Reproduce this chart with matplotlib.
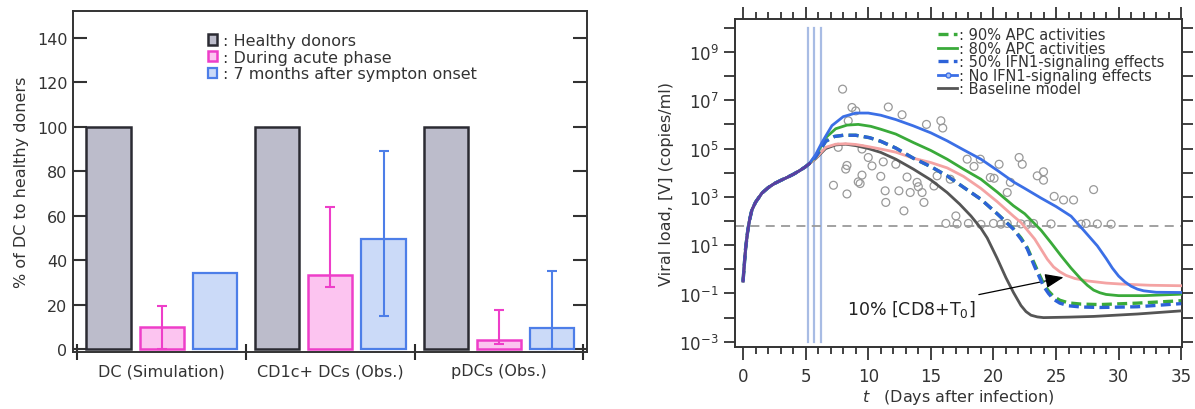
import matplotlib
matplotlib.use("Agg")
import matplotlib.pyplot as plt
import numpy as np
from matplotlib.lines import Line2D
from matplotlib.ticker import FixedLocator, FuncFormatter, MultipleLocator, NullFormatter

plt.rcParams["font.family"] = ["DejaVu Sans"]
plt.rcParams["mathtext.default"] = "regular"
plt.rcParams["text.color"] = "#333333"
plt.rcParams["axes.labelcolor"] = "#333333"
plt.rcParams["xtick.color"] = "#333333"
plt.rcParams["ytick.color"] = "#333333"

# ---------------------------------------------------------------- left panel data
categories = ["DC (Simulation)", "CD1c+ DCs (Obs.)", "pDCs (Obs.)"]
group_labels = [": Healthy donors", ": During acute phase", ": 7 months after sympton onset"]
healthy = [100, 100, 100]
acute = [10, 33.5, 4]
acute_lo = [0, 28, 2.5]
acute_hi = [19.5, 64, 17.5]
after7m = [34, 49.5, 9.5]
after7m_lo = [None, 15, 0]
after7m_hi = [None, 89, 35]

# ---------------------------------------------------------------- right panel data
# log10 viral load
t_early = [0, 0.1, 0.2, 0.35, 0.5, 0.7, 1.0, 1.5, 2.0, 2.5, 3.0, 3.5, 4.0, 4.5, 5.0, 5.3]
v_early = [-0.48, 0.2, 0.85, 1.5, 2.0, 2.45, 2.78, 3.15, 3.38, 3.55, 3.68, 3.8, 3.93, 4.08, 4.25, 4.38]

t_noifn = [5.8, 6.3, 7.1, 8.0, 9.0, 10.0, 11.0, 12.2, 13.6, 15.0, 16.3, 17.6, 19.0, 20.3,
           21.6, 22.5, 23.8, 25.0, 26.2, 27.2, 28.3, 29.0, 29.5, 30.0, 30.5, 31.0, 31.5,
           32.0, 33.0, 35]
v_noifn = [4.75, 5.25, 5.95, 6.32, 6.47, 6.47, 6.38, 6.2, 5.94, 5.65, 5.32, 4.95, 4.56, 4.1,
           3.62, 3.35, 2.95, 2.6, 2.2, 1.62, 0.97, 0.45, 0.05, -0.28, -0.52, -0.7, -0.82,
           -0.89, -0.95, -0.96]

t_apc80 = [5.8, 6.6, 7.4, 8.3, 9.2, 10.2, 11.0, 12.2, 13.6, 15.0, 16.3, 17.6, 19.0, 20.3,
           21.6, 22.5, 23.8, 24.6, 25.4, 26.2, 27.0, 27.5, 28.0, 28.5, 29.0, 30.0, 32, 35]
v_apc80 = [4.7, 5.45, 5.82, 5.97, 6.0, 5.92, 5.8, 5.6, 5.25, 4.92, 4.56, 4.15, 3.73, 3.2,
           2.63, 2.3, 1.62, 1.1, 0.56, 0.05, -0.41, -0.66, -0.86, -0.97, -1.04, -1.09, -1.09,
           -1.03]

t_ifn50 = [5.8, 6.6, 7.3, 8.0, 9.0, 10.1, 11.0, 12.2, 13.6, 15.0, 16.3, 17.6, 19.0, 20.3,
           21.6, 22.2, 22.7, 23.3, 24.0, 24.4, 24.8, 25.3, 26.0, 27.0, 28.5, 31.5, 35]
v_ifn50 = [4.65, 5.3, 5.5, 5.55, 5.55, 5.45, 5.3, 5.02, 4.6, 4.25, 3.87, 3.4, 2.9, 2.3,
           1.66, 1.25, 0.85, 0.1, -0.7, -1.0, -1.24, -1.4, -1.51, -1.56, -1.58, -1.55, -1.42]

t_apc90 = [5.8, 6.6, 7.3, 8.0, 9.0, 10.1, 11.0, 12.2, 13.6, 15.0, 16.3, 17.6, 19.0, 20.3,
           21.6, 22.2, 22.7, 23.3, 24.0, 24.4, 24.8, 25.3, 26.0, 27.0, 28.5, 31.5, 35]
v_apc90 = [4.65, 5.3, 5.5, 5.55, 5.55, 5.45, 5.3, 5.02, 4.6, 4.25, 3.87, 3.4, 2.9, 2.3,
           1.68, 1.3, 0.9, 0.2, -0.6, -0.9, -1.12, -1.28, -1.39, -1.44, -1.46, -1.4, -1.3]

t_cd8 = [5.8, 6.6, 7.4, 8.2, 9.0, 10.0, 11.0, 12.2, 13.6, 15.0, 16.3, 17.6, 19.0, 20.3,
         21.6, 22.2, 23.3, 24.3, 24.8, 25.3, 25.8, 26.5, 27.5, 29.0, 30.2, 32.5, 35]
v_cd8 = [4.6, 5.05, 5.18, 5.2, 5.17, 5.08, 4.98, 4.85, 4.6, 4.42, 4.2, 3.85, 3.35, 2.8,
         2.2, 1.94, 1.25, 0.42, 0.1, -0.1, -0.25, -0.38, -0.48, -0.57, -0.61, -0.66, -0.68]

t_base = [5.8, 6.6, 7.4, 8.2, 9.0, 10.0, 11.0, 12.2, 13.6, 15.0, 16.3, 17.3, 18.2, 19.0,
          19.5, 20.3, 21.0, 21.6, 22.2, 22.6, 23.0, 23.5, 24.0, 26, 28, 31.5, 35]
v_base = [4.58, 5.0, 5.15, 5.18, 5.12, 5.0, 4.84, 4.56, 4.15, 3.7, 3.18, 2.7, 2.21, 1.7,
          1.3, 0.45, -0.35, -0.96, -1.5, -1.75, -1.9, -1.97, -2.0, -1.98, -1.95, -1.85, -1.72]

# observed viral loads (t, log10 V)
obs_t = [7.95, 8.7, 9.0, 8.4, 11.6, 12.7, 14.65, 15.8, 15.95,
         7.6, 9.5, 10.0, 8.3, 8.2, 10.3, 11.2, 12.2, 9.5, 11.0, 9.2, 9.35, 7.22, 13.1, 13.9,
         14.0, 11.35, 12.45, 13.35, 14.3, 8.3, 11.4, 14.45, 12.85,
         15.5, 15.25, 16.55, 17.9, 18.95, 18.45, 20.45, 22.05, 22.3, 19.75, 20.05, 21.35,
         23.5, 24.0, 24.0, 24.85, 25.6, 26.4, 28.0, 21.1, 17.0,
         16.2, 17.1, 18.0, 19.0, 20.0, 20.6, 21.1, 22.2, 22.7, 23.2, 24.6, 27.0, 27.4, 28.3, 29.4]
obs_v = [7.46, 6.7, 6.56, 6.15, 6.72, 6.4, 6.0, 6.15, 5.85,
         5.05, 4.98, 4.63, 4.3, 4.15, 4.28, 4.45, 4.35, 3.9, 3.85, 3.62, 3.55, 3.48, 3.82, 3.6,
         3.42, 3.25, 3.25, 3.18, 3.18, 3.12, 2.77, 2.77, 2.42,
         3.87, 3.45, 3.73, 4.56, 4.56, 4.26, 4.35, 4.63, 4.35, 3.8, 3.77, 3.6,
         3.87, 4.04, 3.69, 3.02, 2.87, 2.87, 3.3, 3.18, 2.21,
         1.9, 1.88, 1.9, 1.86, 1.9, 1.87, 1.9, 1.88, 1.86, 1.9, 1.88, 1.87, 1.9, 1.88, 1.87]

detection_limit = 10 ** 1.8
stim_days = [5.2, 5.7, 6.2]

# ---------------------------------------------------------------- figure
fig = plt.figure(figsize=(11.95, 4.10), dpi=100)
fig.patch.set_facecolor("white")

ax1 = fig.add_axes([0.0611, 0.139, 0.430, 0.832])
ax2 = fig.add_axes([0.615, 0.151, 0.374, 0.80])

# ---- left: bars
x = np.arange(len(categories))
off = 0.315
w = 0.262
b1 = ax1.bar(x - off, healthy, w, color="#bcbccb", edgecolor="#2b2b33", linewidth=1.8,
             label=group_labels[0], zorder=2)
b2 = ax1.bar(x, acute, w, color="#fcc4f0", edgecolor="#ee3ec9", linewidth=1.8,
             label=group_labels[1], zorder=2)
b3 = ax1.bar(x + off, after7m, w, color="#cbdaf8", edgecolor="#4d7ee8", linewidth=1.6,
             label=group_labels[2], zorder=2)

ax1.errorbar(x, acute,
             yerr=[np.subtract(acute, acute_lo), np.subtract(acute_hi, acute)],
             fmt="none", ecolor="#ee3ec9", elinewidth=1.5, capsize=3.5, capthick=1.5, zorder=3)
idx = [i for i, v in enumerate(after7m_hi) if v is not None]
ax1.errorbar(x[idx] + off, [after7m[i] for i in idx],
             yerr=[[after7m[i] - after7m_lo[i] for i in idx],
                   [after7m_hi[i] - after7m[i] for i in idx]],
             fmt="none", ecolor="#4d7ee8", elinewidth=1.5, capsize=3.5, capthick=1.5, zorder=3)

ax1.set_xlim(-0.525, 2.52)
ax1.set_ylim(-1.3, 152)
ax1.set_yticks(np.arange(0, 141, 20))
ax1.set_xticks(x)
ax1.set_xticklabels(categories, fontsize=11.5)
ax1.xaxis.set_minor_locator(FixedLocator([-0.5, 0.5, 1.5, 2.5]))
ax1.tick_params(axis="x", which="major", length=0, pad=8)
ax1.tick_params(axis="x", which="minor", direction="inout", length=12, width=1.5,
                color="#2b2b2b")
ax1.tick_params(axis="y", which="major", direction="in", length=10, width=1.5,
                labelsize=11.5, right=True, color="#333333", pad=4)
ax1.set_ylabel("% of DC to healthy doners", fontsize=11.5, labelpad=6)
for s in ax1.spines.values():
    s.set_linewidth(1.4)
    s.set_color("#333333")

ax1.legend(handles=[b1, b2, b3], loc="upper left", bbox_to_anchor=(0.262, 0.935),
           frameon=False, fontsize=11.5, handlelength=0.6, handleheight=0.6,
           handletextpad=0.35, labelspacing=0.1, borderpad=0, borderaxespad=0)

# ---- right: viral load
for td in stim_days:
    ax2.plot([td, td], [1e-3, 1e10], color="#a8bce4", lw=1.6, zorder=1)
ax2.axhline(detection_limit, color="#9a9a9a", lw=1.3, dashes=(5, 3.5), zorder=1)

ax2.scatter(obs_t, 10.0 ** np.array(obs_v), s=32, facecolors="none",
            edgecolors="#999999", linewidths=0.9, zorder=2)


def full(tt, vv):
    return np.array(t_early + tt), 10.0 ** np.array(v_early + vv)


tb, vb = full(t_base, v_base)
ax2.plot(tb, vb, color="#555555", lw=2.0, zorder=3, label=": Baseline model")
tc, vc = full(t_cd8, v_cd8)
ax2.plot(tc, vc, color="#f4a3a3", lw=2.0, zorder=3)
tg, vg = full(t_apc80, v_apc80)
ax2.plot(tg, vg, color="#3aaa3a", lw=2.0, zorder=4, label=": 80% APC activities")
tg9, vg9 = full(t_apc90, v_apc90)
ax2.plot(tg9, vg9, color="#3aaa3a", lw=2.4, dashes=(3.0, 1.6), zorder=4,
         label=": 90% APC activities")
ti, vi = full(t_ifn50, v_ifn50)
ax2.plot(ti, vi, color="#2d62d8", lw=2.4, dashes=(3.0, 1.6), dash_capstyle="butt", zorder=5,
         label=": 50% IFN1-signaling effects")
tn, vn = full(t_noifn, v_noifn)
ax2.plot(tn, vn, color="#3b6fe6", lw=2.0, zorder=5, label=": No IFN1-signaling effects")
ax2.plot(t_early, 10.0 ** np.array(v_early), color="#5a3f9e", lw=2.0, zorder=6)

ax2.annotate("10% [CD8+T$_0$]", xy=(25.6, 10 ** -0.33), xytext=(8.3, 10 ** -1.62),
             fontsize=12.5, va="center", ha="left", color="#222222",
             arrowprops=dict(arrowstyle="-|>,head_length=0.9,head_width=0.35",
                             color="black", lw=0.9, shrinkA=2, shrinkB=0))

ax2.set_yscale("log")
ax2.set_xlim(-0.65, 35.05)
ax2.set_ylim(10 ** -3.22, 10 ** 10.36)
ax2.yaxis.set_major_locator(FixedLocator(10.0 ** np.arange(-3, 10, 2)))
ax2.yaxis.set_minor_locator(FixedLocator(10.0 ** np.arange(-2, 11, 2)))
ax2.yaxis.set_major_formatter(FuncFormatter(lambda v, p: r"$10^{%d}$" % round(np.log10(v))))
ax2.yaxis.set_minor_formatter(NullFormatter())
ax2.xaxis.set_major_locator(MultipleLocator(5))
ax2.xaxis.set_minor_locator(MultipleLocator(1))
ax2.tick_params(which="both", direction="out", top=True, right=True, width=1.3,
                color="#333333")
ax2.tick_params(axis="y", which="both", length=8, labelsize=12)
ax2.tick_params(axis="x", which="major", length=9, labelsize=12, pad=5)
ax2.tick_params(axis="x", which="minor", length=5)
ax2.set_ylabel("Viral load, [V] (copies/ml)", fontsize=11.5, labelpad=4)
ax2.set_xlabel("$\\it{t}$   (Days after infection)", fontsize=11.5, labelpad=2)
for s in ax2.spines.values():
    s.set_linewidth(1.4)
    s.set_color("#333333")

noifn_handle = Line2D([], [], color="#3b6fe6", lw=2.0, marker="o", ms=3.5,
                      mfc="#a9c0f2", mec="#3b6fe6")
h, l = ax2.get_legend_handles_labels()
order = [": 90% APC activities", ": 80% APC activities", ": 50% IFN1-signaling effects",
         ": No IFN1-signaling effects", ": Baseline model"]
handles = []
for lab in order:
    if lab == ": No IFN1-signaling effects":
        handles.append(noifn_handle)
    else:
        handles.append(h[l.index(lab)])
ax2.legend(handles, order, loc="upper left", bbox_to_anchor=(0.455, 0.975), frameon=False,
           fontsize=10.5, handlelength=1.3, handletextpad=0.1, labelspacing=-0.1,
           borderpad=0, borderaxespad=0)

fig.savefig("out.png", dpi=100, facecolor="white")
